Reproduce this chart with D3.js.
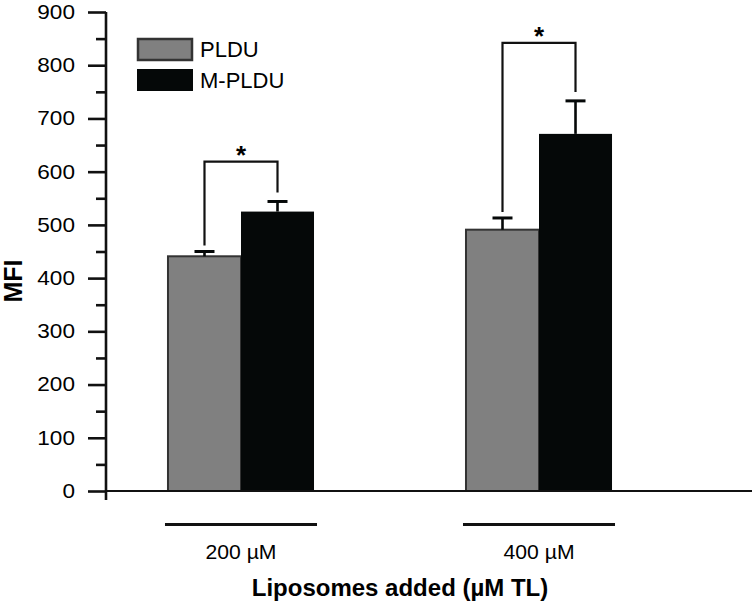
<!DOCTYPE html>
<html>
<head>
<meta charset="utf-8">
<script src="https://cdn.jsdelivr.net/npm/d3@7"></script>
<style>
  body { margin: 0; background: #fff; }
  svg { display: block; font-family: "Liberation Sans", Arial, sans-serif; }
</style>
</head>
<body>
<div id="chart"></div>
<script>
// data
const groups = ["200 µM", "400 µM"]
const series = ["PLDU", "M-PLDU"]
const meanValues = [[441, 525], [491, 671]]   // [group][series]
const errorValues = [[9, 19], [22, 62]]
const bracketTops = [619, 842]
const yTicks = [0, 100, 200, 300, 400, 500, 600, 700, 800, 900]
const yMinorTicks = [50, 150, 250, 350, 450, 550, 650, 750, 850]
const colors = ["#808080", "#050808"]

// constants
const width = 752
const height = 602
const axisX = 106
const stretch = 1.13

const svg = d3.select("#chart").append("svg")
              .attr("width", width)
              .attr("height", height)

// scales
const yScale = d3.scaleLinear()
                 .domain([0, 900])
                 .range([491, 12])

const xScale = d3.scaleBand()
                 .domain(groups)
                 .range([axisX, 674])
                 .paddingInner(0.51)
                 .paddingOuter(0.208)

const xInner = d3.scaleBand()
                 .domain(series)
                 .range([0, xScale.bandwidth()])

// y axis
const yAxis = d3.axisLeft(yScale)
                .tickValues(yTicks)
                .tickSize(18)
                .tickPadding(13)
                .tickSizeOuter(0)
svg.append("g")
   .attr("transform", `translate(${axisX},0)`)
   .call(yAxis)
   .call(g => g.select(".domain").remove())
   .call(g => g.selectAll(".tick line").attr("stroke", "#111").attr("stroke-width", 2.6))
   .call(g => g.selectAll(".tick text")
               .attr("fill", "#000")
               .attr("x", -31 / stretch)
               .attr("transform", `scale(${stretch},1)`)
               .style("font-size", "20px"))

svg.append("g")
   .attr("transform", `translate(${axisX},0)`)
   .call(d3.axisLeft(yScale).tickValues(yMinorTicks).tickSize(10).tickFormat(""))
   .call(g => g.select(".domain").remove())
   .call(g => g.selectAll(".tick line").attr("stroke", "#111").attr("stroke-width", 2.6))

svg.append("line")
   .attr("x1", axisX).attr("x2", axisX)
   .attr("y1", yScale(900)).attr("y2", yScale(0) + 9)
   .attr("stroke", "#111").attr("stroke-width", 2.6)

// bars
const groupG = svg.selectAll(".group")
                  .data(groups)
                  .join("g")
                  .attr("class", "group")
                  .attr("transform", d => `translate(${xScale(d)},0)`)

groupG.selectAll("rect")
      .data((g, gi) => series.map((s, si) => ({s, si, v: meanValues[gi][si]})))
      .join("rect")
      .attr("x", d => xInner(d.s))
      .attr("y", d => yScale(d.v))
      .attr("width", xInner.bandwidth())
      .attr("height", d => yScale(0) - yScale(d.v))
      .attr("fill", d => colors[d.si])
      .attr("stroke", d => d.si === 0 ? "#333" : "none")
      .attr("stroke-width", 2)

// error bars (upward only), brackets, group labels
groupG.each(function (g, gi) {
    const sel = d3.select(this)
    series.forEach((s, si) => {
        const cx = xInner(s) + xInner.bandwidth() / 2
        const top = meanValues[gi][si] + errorValues[gi][si]
        sel.append("line")
           .attr("x1", cx).attr("x2", cx)
           .attr("y1", yScale(meanValues[gi][si])).attr("y2", yScale(top))
           .attr("stroke", "#050808").attr("stroke-width", 2.6)
        sel.append("line")
           .attr("x1", cx - 10).attr("x2", cx + 10)
           .attr("y1", yScale(top)).attr("y2", yScale(top))
           .attr("stroke", "#050808").attr("stroke-width", 3)
    })

    // significance bracket
    const lx = xInner(series[0]) + xInner.bandwidth() / 2
    const rx = xInner(series[1]) + xInner.bandwidth() / 2
    const ly = yScale(meanValues[gi][0] + errorValues[gi][0]) - 6
    const ry = yScale(meanValues[gi][1] + errorValues[gi][1]) - 9
    const ty = yScale(bracketTops[gi])
    sel.append("path")
       .attr("d", `M${lx},${ly}V${ty}H${rx}V${ry}`)
       .attr("fill", "none")
       .attr("stroke", "#111")
       .attr("stroke-width", 2.2)
    sel.append("text")
       .attr("x", (lx + rx) / 2)
       .attr("y", ty + 2)
       .attr("text-anchor", "middle")
       .style("font-size", "26px")
       .style("font-weight", "bold")
       .text("*")

    // group underline + label
    sel.append("line")
       .attr("x1", -3).attr("x2", xScale.bandwidth() + 3)
       .attr("y1", 524.5).attr("y2", 524.5)
       .attr("stroke", "#111").attr("stroke-width", 3)
    sel.append("text")
       .attr("x", xScale.bandwidth() / 2 / 1.06)
       .attr("y", 559)
       .attr("transform", "scale(1.06,1)")
       .attr("text-anchor", "middle")
       .style("font-size", "20px")
       .text(g)
})

// x axis line
svg.append("line")
   .attr("x1", axisX).attr("x2", width)
   .attr("y1", yScale(0)).attr("y2", yScale(0))
   .attr("stroke", "#111").attr("stroke-width", 2)

// axis titles
svg.append("text")
   .attr("x", 400)
   .attr("y", 596)
   .attr("text-anchor", "middle")
   .style("font-size", "24px")
   .style("font-weight", "bold")
   .text("Liposomes added (µM TL)")

svg.append("text")
   .attr("transform", `translate(22,281) rotate(-90)`)
   .attr("text-anchor", "middle")
   .style("font-size", "25px")
   .style("font-weight", "bold")
   .text("MFI")

// legend
const legend = svg.append("g")
                  .attr("transform", "translate(137,38)")
                  .selectAll("g")
                  .data(series)
                  .join("g")
                  .attr("transform", (d, i) => `translate(0,${i * 31})`)
legend.append("rect")
      .attr("x", (d, i) => i === 0 ? 1 : 0)
      .attr("y", (d, i) => i === 0 ? 1 : 0)
      .attr("width", (d, i) => i === 0 ? 54 : 56)
      .attr("height", (d, i) => i === 0 ? 21 : 22)
      .attr("fill", (d, i) => colors[i])
      .attr("stroke", (d, i) => i === 0 ? "#333" : "none")
      .attr("stroke-width", 2.5)
legend.append("text")
      .attr("x", 63)
      .attr("y", 19)
      .style("font-size", "22px")
      .text(d => d)
</script>
</body>
</html>
